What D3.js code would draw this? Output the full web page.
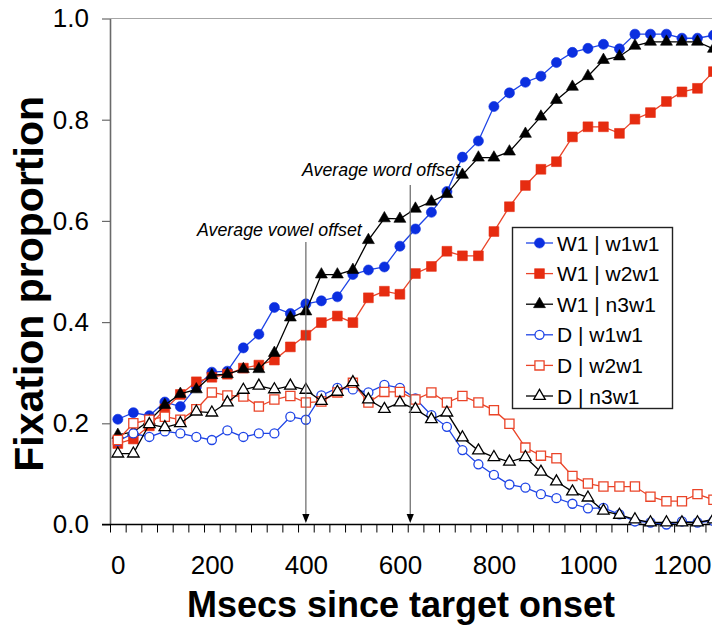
<!DOCTYPE html>
<html>
<head>
<meta charset="utf-8">
<script src="https://cdn.jsdelivr.net/npm/d3@7/dist/d3.min.js"></script>
<style>
  html, body { margin: 0; padding: 0; background: #fff; overflow: hidden; }
  svg { display: block; font-family: "Liberation Sans", Arial, Helvetica, sans-serif; }
</style>
</head>
<body>
<svg id="chart" width="712" height="626"></svg>
<script>
// Time bins (ms since target onset), one per 33 ms video frame
const msecs = [0, 33, 67, 100, 133, 167, 200, 233, 267, 300, 333, 367, 400, 433, 467,
  500, 533, 567, 600, 633, 667, 700, 733, 767, 800, 833, 867, 900, 933, 967,
  1000, 1033, 1067, 1100, 1133, 1167, 1200, 1233, 1267];

const xTickLabels = [0, 200, 400, 600, 800, 1000, 1200];
const yTickValues = [0, 0.2, 0.4, 0.6, 0.8, 1.0];

const seriesNames = ["W1 | w1w1", "W1 | w2w1", "W1 | n3w1", "D | w1w1", "D | w2w1", "D | n3w1"];

// Fixation proportions to the target word (W1)
const targetW1W1 = [0.208, 0.221, 0.215, 0.242, 0.233, 0.272, 0.301, 0.303, 0.349, 0.376,
  0.429, 0.417, 0.436, 0.442, 0.450, 0.494, 0.503, 0.509, 0.550, 0.584,
  0.617, 0.658, 0.726, 0.758, 0.826, 0.853, 0.874, 0.886, 0.913, 0.933,
  0.941, 0.949, 0.940, 0.969, 0.969, 0.969, 0.961, 0.961, 0.967];
const targetW2W1 = [0.160, 0.169, 0.195, 0.228, 0.257, 0.282, 0.291, 0.297, 0.309, 0.315,
  0.325, 0.351, 0.374, 0.399, 0.412, 0.399, 0.448, 0.461, 0.455, 0.496,
  0.510, 0.540, 0.531, 0.531, 0.579, 0.628, 0.670, 0.702, 0.717, 0.766,
  0.786, 0.786, 0.773, 0.801, 0.814, 0.836, 0.855, 0.862, 0.895];
const targetN3W1 = [0.177, 0.183, 0.205, 0.236, 0.258, 0.267, 0.295, 0.297, 0.307, 0.307,
  0.339, 0.409, 0.421, 0.494, 0.494, 0.503, 0.562, 0.605, 0.604, 0.624,
  0.638, 0.653, 0.691, 0.725, 0.725, 0.737, 0.772, 0.806, 0.839, 0.865,
  0.886, 0.918, 0.925, 0.946, 0.954, 0.954, 0.954, 0.954, 0.940];

// Fixation proportions to the distractor (D)
const distW1W1 = [0.165, 0.180, 0.173, 0.184, 0.180, 0.173, 0.167, 0.186, 0.173, 0.180,
  0.180, 0.213, 0.207, 0.255, 0.270, 0.267, 0.261, 0.276, 0.270, 0.249,
  0.216, 0.193, 0.147, 0.119, 0.098, 0.079, 0.073, 0.060, 0.052, 0.041,
  0.032, 0.033, 0.020, 0.006, 0.004, 0.000, 0.006, 0.004, 0.007];
const distW2W1 = [0.167, 0.200, 0.207, 0.213, 0.207, 0.228, 0.261, 0.255, 0.253, 0.233,
  0.247, 0.254, 0.241, 0.243, 0.261, 0.280, 0.241, 0.262, 0.262, 0.247,
  0.261, 0.241, 0.254, 0.241, 0.226, 0.199, 0.152, 0.136, 0.131, 0.096,
  0.081, 0.075, 0.075, 0.075, 0.055, 0.046, 0.046, 0.060, 0.049];
const distN3W1 = [0.140, 0.140, 0.198, 0.192, 0.200, 0.223, 0.221, 0.241, 0.266, 0.274,
  0.267, 0.274, 0.266, 0.244, 0.262, 0.281, 0.247, 0.228, 0.241, 0.228,
  0.208, 0.221, 0.172, 0.146, 0.133, 0.124, 0.133, 0.104, 0.085, 0.065,
  0.053, 0.027, 0.019, 0.010, 0.004, 0.004, 0.004, 0.004, 0.010];

// Reference markers
const vowelOffsetMs = 400;
const wordOffsetMs = 622;

// ---------------------------------------------------------------
const svg = d3.select("#chart");
svg.append("rect").attr("width", 712).attr("height", 626).attr("fill", "#fff");

const binW = 15.67;
const xLeft = 110;
const x = d3.scaleLinear().domain([0, 1200]).range([xLeft + binW / 2, xLeft + binW / 2 + 36 * binW]);
const y = d3.scaleLinear().domain([0, 1]).range([524.5, 18.5]);

const BLUE = "#0b2fe0", BLUE_LINE = "#1e44e6";
const RED = "#e62c10", RED_LINE = "#ea4428";
const BLACK = "#000";

const styles = [
  { data: targetW1W1, shape: d3.symbolCircle, size: 80, fill: BLUE, stroke: BLUE, line: BLUE_LINE },
  { data: targetW2W1, shape: d3.symbolSquare, size: 96, fill: RED, stroke: RED, line: RED_LINE },
  { data: targetN3W1, shape: d3.symbolTriangle, size: 62, fill: BLACK, stroke: BLACK, line: BLACK },
  { data: distW1W1, shape: d3.symbolCircle, size: 64, fill: "#fff", stroke: BLUE_LINE, line: BLUE_LINE },
  { data: distW2W1, shape: d3.symbolSquare, size: 84, fill: "#fff", stroke: RED_LINE, line: RED_LINE },
  { data: distN3W1, shape: d3.symbolTriangle, size: 58, fill: "#fff", stroke: BLACK, line: BLACK }
];

// Plot-area top border
svg.append("line")
  .attr("x1", xLeft).attr("x2", 760)
  .attr("y1", y(1)).attr("y2", y(1))
  .attr("stroke", "#a6a6a6").attr("stroke-width", 1.2);

// Y axis
const yAxis = svg.append("g")
  .attr("transform", `translate(${xLeft},0)`)
  .call(d3.axisLeft(y).tickValues(yTickValues).tickFormat(d3.format(".1f"))
    .tickSize(8).tickSizeOuter(0).tickPadding(13));
yAxis.select(".domain").attr("stroke", "#6a6a6a").attr("stroke-width", 1.6);
yAxis.selectAll(".tick line").attr("stroke", "#6a6a6a").attr("stroke-width", 1.2);
yAxis.selectAll(".tick text").attr("font-size", 26).attr("fill", "#000")
  .attr("font-family", "'Liberation Sans', Arial, sans-serif");

// X axis: bin boundary ticks
const boundaries = d3.range(0, 40).map(k => (k - 0.5) * 100 / 3);
const xTicks = svg.append("g")
  .attr("transform", `translate(0,${y(0)})`)
  .call(d3.axisBottom(x).tickValues(boundaries).tickFormat("").tickSize(8).tickSizeOuter(0));
xTicks.select(".domain").remove();
xTicks.selectAll(".tick line").attr("stroke", "#000").attr("stroke-width", 1);

svg.append("line")
  .attr("x1", 102).attr("x2", 760)
  .attr("y1", y(0)).attr("y2", y(0))
  .attr("stroke", "#000").attr("stroke-width", 1.3);

// X tick labels
const xLabels = svg.append("g")
  .attr("transform", `translate(0,${y(0)})`)
  .call(d3.axisBottom(x).tickValues(xTickLabels).tickFormat(d3.format("d")).tickSize(0).tickPadding(31));
xLabels.select(".domain").remove();
xLabels.selectAll(".tick text").attr("font-size", 26).attr("fill", "#000")
  .attr("font-family", "'Liberation Sans', Arial, sans-serif");

// Axis titles
svg.append("text")
  .attr("x", 401).attr("y", 617)
  .attr("text-anchor", "middle")
  .attr("font-size", 36).attr("font-weight", "bold")
  .text("Msecs since target onset");

svg.append("text")
  .attr("transform", "translate(43,96) rotate(-90)")
  .attr("text-anchor", "end")
  .attr("font-size", 41).attr("font-weight", "bold")
  .text("Fixation proportion");

// Offset annotations with arrows
function offsetArrow(ms, yTop, label, labelX, labelY) {
  const xx = x(ms);
  svg.append("line")
    .attr("x1", xx).attr("x2", xx)
    .attr("y1", yTop).attr("y2", 516)
    .attr("stroke", "#666").attr("stroke-width", 1.2);
  svg.append("path")
    .attr("d", `M${xx - 3.6},514 L${xx + 3.6},514 L${xx},523 Z`)
    .attr("fill", "#000");
  svg.append("text")
    .attr("x", labelX).attr("y", labelY)
    .attr("font-size", 17.8).attr("font-style", "italic")
    .text(label);
}

// Series lines and markers
const line = d3.line().x((d, i) => x(msecs[i])).y(d => y(d));

styles.forEach(s => {
  const g = svg.append("g");
  g.append("path")
    .attr("d", line(s.data))
    .attr("fill", "none")
    .attr("stroke", s.line)
    .attr("stroke-width", 1.3);
  g.selectAll("path.mk")
    .data(s.data)
    .join("path")
    .attr("class", "mk")
    .attr("transform", (d, i) => `translate(${x(msecs[i])},${y(d)})`)
    .attr("d", d3.symbol().type(s.shape).size(s.size))
    .attr("fill", s.fill)
    .attr("stroke", s.stroke)
    .attr("stroke-width", s.fill === "#fff" ? 1.3 : 0.6);
});

offsetArrow(vowelOffsetMs, 242, "Average vowel offset", 197, 236);
offsetArrow(wordOffsetMs, 185, "Average word offset", 302, 176);

// Legend
const legend = svg.append("g");
legend.append("rect")
  .attr("x", 512.5).attr("y", 227.5)
  .attr("width", 160).attr("height", 181)
  .attr("fill", "#fff")
  .attr("stroke", "#222").attr("stroke-width", 1.4);

seriesNames.forEach((name, k) => {
  const s = styles[k];
  const ly = 243 + k * 30.6;
  legend.append("line")
    .attr("x1", 526).attr("x2", 553)
    .attr("y1", ly).attr("y2", ly)
    .attr("stroke", s.line).attr("stroke-width", 1.3);
  legend.append("path")
    .attr("transform", `translate(539.5,${ly})`)
    .attr("d", d3.symbol().type(s.shape).size(s.size)())
    .attr("fill", s.fill)
    .attr("stroke", s.stroke)
    .attr("stroke-width", s.fill === "#fff" ? 1.3 : 0.6);
  legend.append("text")
    .attr("x", 557).attr("y", ly + 7.6)
    .attr("font-size", 21)
    .text(name);
});
</script>
</body>
</html>
